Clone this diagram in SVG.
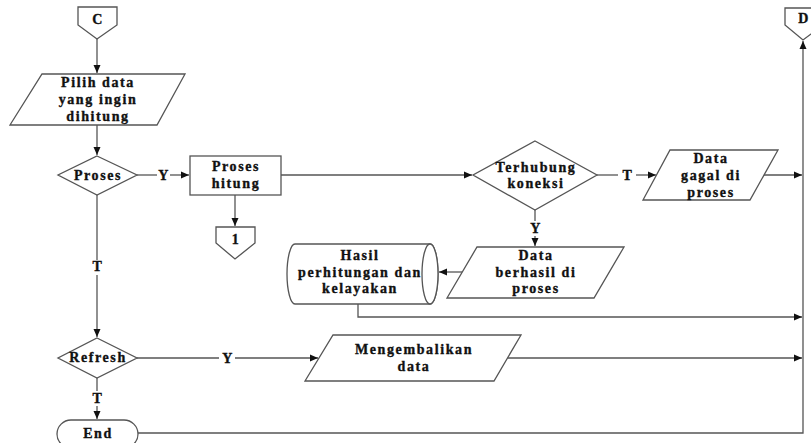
<svg xmlns="http://www.w3.org/2000/svg" width="811" height="443" viewBox="0 0 811 443">
<style>
.s{fill:#fff;stroke:#555;stroke-width:1.3}
.c{fill:none;stroke:#555;stroke-width:1.3}
.t{font-family:"Liberation Serif","Times New Roman","DejaVu Serif",serif;font-weight:bold;font-size:14px;letter-spacing:1.6px;fill:#111;stroke:#111;stroke-width:0.35;text-anchor:middle}
</style>
<defs>
<marker id="a" markerUnits="userSpaceOnUse" markerWidth="9" markerHeight="8" refX="8" refY="4" orient="auto">
<path d="M0,0.5 L8,4 L0,7.5 Z" fill="#111"/>
</marker>
</defs>
<rect width="811" height="443" fill="#fff"/>
<g id="connectors">
<path class="c" d="M97,39 L97,73" marker-end="url(#a)"/>
<path class="c" d="M97,125 L97,155" marker-end="url(#a)"/>
<path class="c" d="M137,175 L157,175"/>
<path class="c" d="M170,175 L189,175" marker-end="url(#a)"/>
<path class="c" d="M235,195 L235,226" marker-end="url(#a)"/>
<path class="c" d="M281,175 L472,175" marker-end="url(#a)"/>
<path class="c" d="M597,175 L618,175"/>
<path class="c" d="M636,175 L656,175" marker-end="url(#a)"/>
<path class="c" d="M764,175 L802,175" marker-end="url(#a)"/>
<path class="c" d="M535,210 L535,221"/>
<path class="c" d="M535,236 L535,246" marker-end="url(#a)"/>
<path class="c" d="M462,272 L439,272" marker-end="url(#a)"/>
<path class="c" d="M358,304 L358,317 L802,317" marker-end="url(#a)"/>
<path class="c" d="M97,195 L97,260"/>
<path class="c" d="M97,275 L97,337" marker-end="url(#a)"/>
<path class="c" d="M137,358 L219,358"/>
<path class="c" d="M235,358 L318,358" marker-end="url(#a)"/>
<path class="c" d="M507,358 L802,358" marker-end="url(#a)"/>
<path class="c" d="M97,378 L97,391"/>
<path class="c" d="M97,406 L97,419" marker-end="url(#a)"/>
<path class="c" d="M138,433 L803,433 L803,41" marker-end="url(#a)"/>
<text class="t" x="164" y="180">Y</text>
<text class="t" x="628" y="180">T</text>
<text class="t" x="536" y="233">Y</text>
<text class="t" x="98" y="271">T</text>
<text class="t" x="228" y="363">Y</text>
<text class="t" x="98" y="403">T</text>
</g>
<g id="nodeC">
<path class="s" d="M78,7 L117,7 L117,25 L97,39 L78,25 Z"/>
<text class="t" x="98" y="24">C</text>
</g>
<g id="nodePilih">
<path class="s" d="M42,74 L185,74 L157,125 L10,125 Z"/>
<text class="t" x="98" y="87">Pilih data</text>
<text class="t" x="98" y="104">yang ingin</text>
<text class="t" x="98" y="121">dihitung</text>
</g>
<g id="nodeProses">
<path class="s" d="M97,156 L137,175 L97,195 L58,175 Z"/>
<text class="t" x="98" y="180">Proses</text>
</g>
<g id="nodeHitung">
<rect class="s" x="190" y="156" width="91" height="39"/>
<text class="t" x="236" y="171">Proses</text>
<text class="t" x="236" y="188">hitung</text>
</g>
<g id="node1">
<path class="s" d="M216,227 L255,227 L255,243 L235,259 L216,243 Z"/>
<text class="t" x="236" y="244">1</text>
</g>
<g id="nodeTerhubung">
<path class="s" d="M535,141 L597,175 L535,210 L473,175 Z"/>
<text class="t" x="536" y="172">Terhubung</text>
<text class="t" x="536" y="188">koneksi</text>
</g>
<g id="nodeGagal">
<path class="s" d="M670,150 L778,150 L750,200 L643,200 Z"/>
<text class="t" x="711" y="163">Data</text>
<text class="t" x="711" y="180">gagal di</text>
<text class="t" x="711" y="197">proses</text>
</g>
<g id="nodeD">
<path class="s" d="M785,8 L823,8 L823,25 L803,40 L785,25 Z"/>
<text class="t" x="804" y="23">D</text>
</g>
<g id="nodeBerhasil">
<path class="s" d="M477,247 L624,247 L594,298 L447,298 Z"/>
<text class="t" x="536" y="260">Data</text>
<text class="t" x="536" y="277">berhasil di</text>
<text class="t" x="536" y="293">proses</text>
</g>
<g id="nodeHasil">
<path class="s" d="M295,244 L430,244 A8,30 0 0 1 430,304 L295,304 A8,30 0 0 1 295,244 Z"/>
<ellipse class="s" cx="430" cy="274" rx="8" ry="30"/>
<text class="t" x="360" y="260">Hasil</text>
<text class="t" x="360" y="277">perhitungan dan</text>
<text class="t" x="360" y="293">kelayakan</text>
</g>
<g id="nodeRefresh">
<path class="s" d="M97,338 L137,358 L97,378 L58,358 Z"/>
<text class="t" x="98" y="362">Refresh</text>
</g>
<g id="nodeMengembalikan">
<path class="s" d="M333,335 L521,335 L494,381 L305,381 Z"/>
<text class="t" x="414" y="354">Mengembalikan</text>
<text class="t" x="414" y="371">data</text>
</g>
<g id="nodeEnd">
<rect class="s" x="57" y="420" width="81" height="28" rx="14"/>
<text class="t" x="98" y="438">End</text>
</g>
</svg>
